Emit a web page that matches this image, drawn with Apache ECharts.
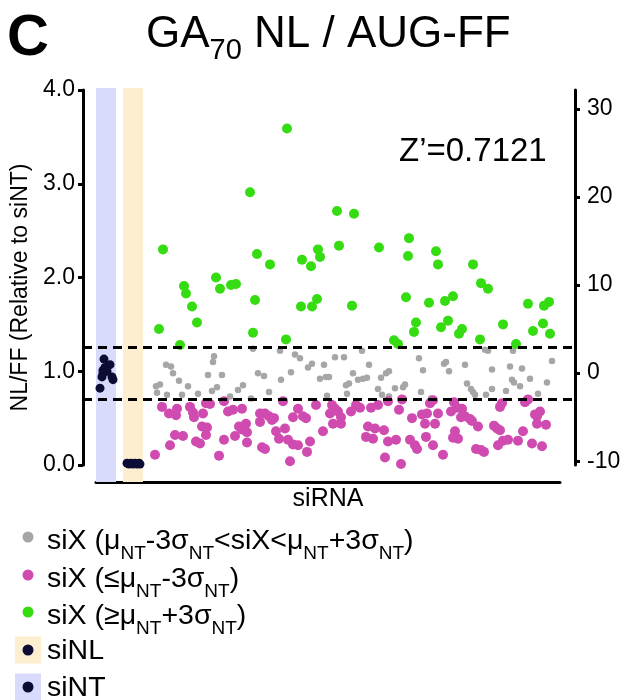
<!DOCTYPE html>
<html><head><meta charset="utf-8">
<script src="https://cdn.jsdelivr.net/npm/echarts@6/dist/echarts.min.js"></script>
<style>html,body{margin:0;padding:0;background:#fff}#c{width:625px;height:700px}</style>
</head><body><div id="c"></div>
<script>
// ---------- data ----------
const leftTicks = [0, 1, 2, 3, 4];          // NL/FF (relative to siNT)
const rightTicks = [-10, 0, 10, 20, 30];    // Z-score axis
const muNT = 0.98, sigmaNT = 0.0939;        // siNT mean / SD
const zPrime = '0.7121';
const plateRange = [0, 492];                // siRNA order positions
const ntBand = [13, 33];
const nlBand = [40, 60];

const siNT = [[21,1.13],[27,1.07],[22,1.04],[20,1.01],[24,1.00],[20,0.98],[19,0.94],[29,0.94],[30,0.91],[17,0.82]];
const siNL = [[44,0.02],[46,0.01],[48,0.02],[50,0.01],[52,0.02],[54,0.01],[56,0.02],[57,0.01]];

const siXMid = [[83,1.07],[88,1.05],[90,0.98],[96,0.90],[105,0.84],[77,0.86],[73,0.84],[74,0.77],[84,0.75],[99,0.75],
[115,0.76],[125,0.96],[130,1.10],[131,1.16],[139,0.96],[129,0.79],[134,0.83],[147,0.73],[155,0.80],[160,0.85],
[168,0.71],[170,1.24],[197,1.22],[212,1.18],[217,1.14],[229,1.08],[225,1.04],[241,1.07],[252,1.15],[261,1.15],
[175,0.98],[181,0.95],[198,0.91],[208,0.99],[237,0.92],[243,0.94],[246,0.94],[270,0.98],[186,0.78],[263,0.85],
[266,0.87],[244,0.74],[264,0.76],[279,1.22],[286,1.07],[275,0.91],[280,0.92],[284,0.93],[298,0.93],[303,0.98],
[306,1.00],[295,0.81],[299,0.75],[312,0.82],[320,0.83],[322,0.86],[306,0.73],[336,1.14],[340,1.01],[338,0.78],
[361,1.08],[363,1.10],[366,1.00],[348,0.71],[402,1.23],[405,1.22],[430,1.22],[382,1.07],[409,1.02],[427,1.05],
[439,1.03],[384,0.87],[388,0.81],[390,0.78],[392,0.75],[403,0.75],[409,0.81],[423,0.79],[429,0.91],[431,0.88],
[437,0.84],[447,0.92],[455,0.76],[464,0.88],[469,1.11]];

const siXLow = [[72,0.11],[79,0.62],[86,0.55],[94,0.60],[93,0.53],[107,0.62],[110,0.56],[111,0.51],[120,0.55],[123,0.66],
[127,0.65],[141,0.68],[145,0.57],[150,0.59],[159,0.60],[119,0.41],[124,0.40],[123,0.32],[92,0.32],[100,0.31],
[113,0.25],[117,0.23],[87,0.21],[136,0.10],[141,0.27],[152,0.31],[156,0.41],[159,0.38],[163,0.44],[164,0.35],[164,0.24],
[177,0.55],[182,0.55],[186,0.52],[189,0.48],[191,0.50],[177,0.46],[193,0.36],[196,0.28],[202,0.39],[200,0.68],
[179,0.19],[182,0.17],[205,0.27],[210,0.51],[215,0.60],[220,0.52],[223,0.50],[210,0.22],[215,0.21],[207,0.04],
[224,0.14],[227,0.25],[233,0.64],[240,0.36],[247,0.55],[249,0.64],[252,0.60],[255,0.57],[250,0.44],[258,0.44],
[258,0.51],[268,0.57],[273,0.64],[277,0.61],
[288,0.61],[295,0.64],[305,0.68],[319,0.70],[316,0.59],[285,0.41],[292,0.39],[283,0.30],[290,0.28],[301,0.37],
[305,0.25],[313,0.27],[302,0.08],[318,0.01],[329,0.50],[327,0.27],[332,0.21],[334,0.17],[339,0.54],[344,0.55],
[342,0.44],[352,0.44],[347,0.66],[350,0.69],[355,0.55],[343,0.30],[350,0.21],[360,0.11],[368,0.57],[371,0.67],
[374,0.61],[379,0.60],[378,0.51],[372,0.36],[370,0.29],[375,0.28],
[382,0.52],[387,0.49],[389,0.47],[395,0.41],[393,0.17],[398,0.16],[401,0.14],[411,0.42],[414,0.39],[417,0.37],
[417,0.62],[419,0.66],[415,0.21],[420,0.26],[425,0.27],[435,0.26],[440,0.36],[442,0.67],[445,0.70],[452,0.54],
[454,0.52],[454,0.44],[457,0.57],[463,0.43],[449,0.23],[459,0.20]];

const siXHigh = [[167,2.91],[80,2.30],[133,2.00],[101,1.91],[103,1.83],[137,1.88],[148,1.92],[153,1.93],[109,1.69],[114,1.52],
[76,1.45],[97,1.28],[170,1.41],[204,3.59],[254,2.71],[271,2.68],[256,2.34],[174,2.25],[187,2.14],[235,2.30],
[237,2.22],[219,2.19],[228,2.12],[172,1.76],[218,1.69],[229,1.69],[234,1.77],[269,1.70],[203,1.34],[326,2.42],
[296,2.32],[325,2.23],[353,2.28],[355,2.14],[323,1.79],[346,1.73],[362,1.75],[370,1.80],[333,1.52],[331,1.42],
[358,1.47],[365,1.54],[376,1.40],[379,1.45],[311,1.33],[315,1.29],[390,2.14],[398,1.94],[405,1.88],[445,1.72],
[461,1.70],[466,1.74],[420,1.50],[450,1.43],[460,1.51],[467,1.40],[397,1.34],[433,1.29]];

// ---------- styles ----------
const FONT = '"Liberation Sans", Arial, Helvetica, sans-serif';
const C_GRAY = '#a6a6a6', C_MAG = '#d04bb0', C_GREEN = '#36dc12', C_NAVY = '#0c0c35';
const C_BLUE = '#d8dbfb', C_ORANGE = '#fdeecf';
const AXL = {show: true, onZero: false, lineStyle: {color: '#000', width: 3}};
const yMin = leftTicks[0], yMax = leftTicks[leftTicks.length - 1];

const chart = echarts.init(document.getElementById('c'), null, {renderer: 'canvas'});

const subRich = (main, sub, lh) => ({
  m: {fontSize: main, fontFamily: FONT, fill: '#000', lineHeight: lh, verticalAlign: 'middle'},
  s: {fontSize: sub, fontFamily: FONT, fill: '#000', lineHeight: sub, verticalAlign: 'bottom'}
});
const legRich = subRich(28.5, 19, 44);

const legendRows = [
  {y: 541, dy: -4, color: C_GRAY, box: null, text: '{m|siX (μ}{s|NT}{m|-3σ}{s|NT}{m|<siX<μ}{s|NT}{m|+3σ}{s|NT}{m|)}'},
  {y: 579, dy: -4, color: C_MAG, box: null, text: '{m|siX (≤μ}{s|NT}{m|-3σ}{s|NT}{m|)}'},
  {y: 616, dy: -4, color: C_GREEN, box: null, text: '{m|siX (≥μ}{s|NT}{m|+3σ}{s|NT}{m|)}'},
  {y: 651, dy: -1, color: C_NAVY, box: C_ORANGE, text: '{m|siNL}'},
  {y: 688, dy: -1, color: C_NAVY, box: C_BLUE, text: '{m|siNT}'}
];
const graphics = [];
legendRows.forEach(r => {
  const cy = r.y + r.dy;
  if (r.box) graphics.push({type: 'rect', shape: {x: 15, y: cy - 13.5, width: 26, height: 27}, style: {fill: r.box}});
  graphics.push({type: 'circle', shape: {cx: 28, cy: cy, r: 5.5}, style: {fill: r.color}});
  graphics.push({type: 'text', x: 47, y: r.y, style: {text: r.text, rich: legRich, verticalAlign: 'middle', align: 'left'}});
});
graphics.push({type: 'text', x: 7, y: 39, style: {text: 'C', fontSize: 58, fontWeight: 'bold', fontFamily: FONT, fill: '#000', verticalAlign: 'middle'}});
graphics.push({type: 'text', x: 146, y: 35, style: {text: '{m|GA}{s|70}{m| NL / AUG-FF}', rich: subRich(44, 29, 60), verticalAlign: 'middle'}});
graphics.push({type: 'text', x: 399, y: 152, style: {text: 'Z’=' + zPrime, fontSize: 33, fontFamily: FONT, fill: '#000', verticalAlign: 'middle'}});

const option = {
  animation: false,
  backgroundColor: '#fff',
  grid: [
    {left: 83, right: 50, top: 90, bottom: 235, outerBoundsMode: 'none'},
    {left: 83, right: 50, top: 88, bottom: 218, outerBoundsMode: 'none'},
    {left: 96, right: 65, top: 88, bottom: 218, outerBoundsMode: 'none'}
  ],
  xAxis: [
    {gridIndex: 0, type: 'value', min: plateRange[0], max: plateRange[1], show: false},
    {gridIndex: 1, type: 'value', min: plateRange[0], max: plateRange[1], show: false},
    {gridIndex: 2, type: 'value', min: 0, max: 1, axisLine: AXL, axisTick: {show: false}, axisLabel: {show: false},
     splitLine: {show: false}, name: 'siRNA', nameLocation: 'middle', nameGap: 5,
     nameTextStyle: {fontSize: 25, color: '#000', fontFamily: FONT, verticalAlign: 'top'}}
  ],
  yAxis: [
    {gridIndex: 0, type: 'value', min: yMin, max: yMax, interval: 1, axisLine: AXL,
     axisTick: {show: true, inside: false, length: 5, lineStyle: {color: '#000', width: 3}},
     axisLabel: {formatter: v => v.toFixed(1), fontSize: 23, color: '#000', fontFamily: FONT, margin: 8},
     splitLine: {show: false},
     name: 'NL/FF (Relative to siNT)', nameLocation: 'middle', nameRotate: 90, nameGap: 51,
     nameTextStyle: {fontSize: 23, color: '#000', fontFamily: FONT, padding: [0, 20, 0, 0]}},
    {gridIndex: 0, type: 'value', position: 'right', min: (yMin - muNT) / sigmaNT, max: (yMax - muNT) / sigmaNT,
     axisLine: AXL,
     axisTick: {show: true, length: 5, customValues: rightTicks, lineStyle: {color: '#000', width: 3}},
     axisLabel: {customValues: rightTicks, fontSize: 23, color: '#000', fontFamily: FONT, margin: 12},
     splitLine: {show: false}},
    {gridIndex: 1, type: 'value', min: 0, max: 1, show: false},
    {gridIndex: 2, type: 'value', min: 0, max: 1, show: false}
  ],
  series: [
    {type: 'scatter', xAxisIndex: 1, yAxisIndex: 2, data: [], z: 0, silent: true,
     markArea: {silent: true, data: [
       [{xAxis: ntBand[0], itemStyle: {color: C_BLUE}}, {xAxis: ntBand[1]}],
       [{xAxis: nlBand[0], itemStyle: {color: C_ORANGE}}, {xAxis: nlBand[1]}]
     ]}},
    {type: 'scatter', xAxisIndex: 2, yAxisIndex: 3, data: [], silent: true},
    {type: 'scatter', xAxisIndex: 0, yAxisIndex: 0, data: siXMid, symbolSize: 6.5, z: 3,
     itemStyle: {color: C_GRAY, opacity: 1},
     markLine: {silent: true, symbol: 'none', label: {show: false}, z: 5,
       lineStyle: {color: '#000', width: 3, type: [9, 6], opacity: 1},
       data: [{yAxis: muNT + 3 * sigmaNT}, {yAxis: muNT - 3 * sigmaNT}]}},
    {type: 'scatter', xAxisIndex: 0, yAxisIndex: 0, data: siXLow, symbolSize: 10, z: 3, itemStyle: {color: C_MAG, opacity: 1}},
    {type: 'scatter', xAxisIndex: 0, yAxisIndex: 0, data: siXHigh, symbolSize: 10, z: 3, itemStyle: {color: C_GREEN, opacity: 1}},
    {type: 'scatter', xAxisIndex: 0, yAxisIndex: 0, data: siNT, symbolSize: 9, z: 4, itemStyle: {color: C_NAVY, opacity: 1}},
    {type: 'scatter', xAxisIndex: 0, yAxisIndex: 0, data: siNL, symbolSize: 9, z: 4, itemStyle: {color: C_NAVY, opacity: 1}}
  ],
  graphic: graphics
};
chart.setOption(option);
</script>
</body></html>
